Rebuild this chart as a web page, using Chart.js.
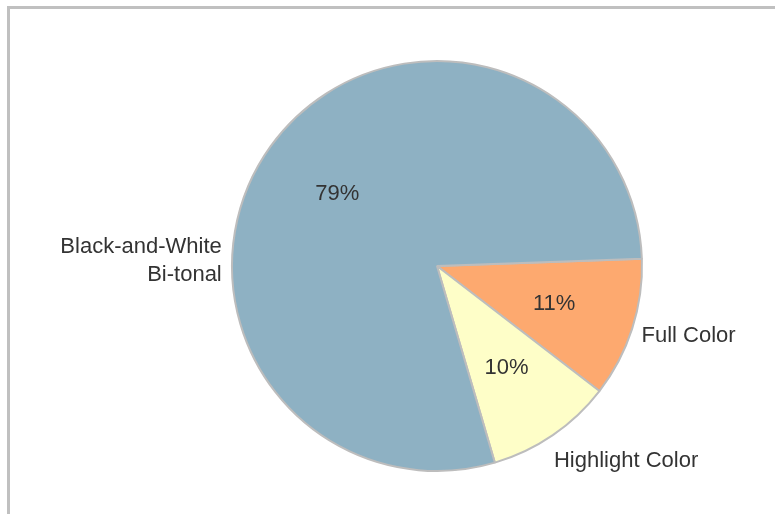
<!DOCTYPE html>
<html>
<head>
<meta charset="utf-8">
<script src="https://cdn.jsdelivr.net/npm/chart.js@4/dist/chart.umd.min.js"></script>
<style>
  html, body { margin: 0; padding: 0; background: #fff; }
  #wrap { position: relative; width: 775px; height: 514px; }
  #frame { position: absolute; left: 7px; top: 6px; right: 0; bottom: 0;
           border-top: 3px solid #c0c0c0; border-left: 3px solid #c0c0c0; }
  canvas { position: absolute; left: 0; top: 0; }
</style>
</head>
<body>
<div id="wrap">
  <div id="frame"></div>
  <canvas id="pie_chart" width="775" height="514"></canvas>
</div>
<script>
// slices, clockwise from just above 3 o'clock
var labels = ["Full Color", "Highlight Color", "Black-and-White\nBi-tonal"];
var shares = [11, 10, 79];
var colors = ["#fda96f", "#fefec8", "#8eb1c3"];

// outer label placement: angle override (deg, canvas) and alignment
var outerLabelOpts = [
  { angle: 19, dist: 1.055, align: "left" },
  { angle: 56, dist: 1.02, align: "left", dy: 22 },
  { angle: 180, dist: 1.05, align: "right", dy: -5 }
];

var sliceLabels = {
  id: "sliceLabels",
  afterDatasetsDraw: function(chart) {
    var ctx = chart.ctx;
    var meta = chart.getDatasetMeta(0);
    var total = shares.reduce(function(a, b) { return a + b; }, 0);
    ctx.save();
    ctx.fillStyle = "#333333";
    ctx.font = "22px 'Liberation Sans', Arial, sans-serif";
    ctx.textBaseline = "middle";
    meta.data.forEach(function(arc, i) {
      var p = arc.getProps(["x", "y", "startAngle", "endAngle", "outerRadius"], true);
      var mid = (p.startAngle + p.endAngle) / 2;
      var r = p.outerRadius * 0.6;
      ctx.textAlign = "center";
      ctx.fillText(Math.round(shares[i] / total * 100) + "%",
        p.x + Math.cos(mid) * r, p.y + Math.sin(mid) * r);

      var o = outerLabelOpts[i];
      var a = o.angle * Math.PI / 180;
      var lx = p.x + Math.cos(a) * p.outerRadius * o.dist;
      var ly = p.y + Math.sin(a) * p.outerRadius * o.dist + (o.dy || 0);
      var lines = labels[i].split("\n");
      ctx.textAlign = o.align;
      lines.forEach(function(t, k) {
        ctx.fillText(t, lx, ly + (k - (lines.length - 1) / 2) * 28);
      });
    });
    ctx.restore();
  }
};

new Chart(document.getElementById("pie_chart"), {
  type: "pie",
  data: {
    labels: labels,
    datasets: [{
      data: shares,
      backgroundColor: colors,
      borderColor: "#bdbdbd",
      borderWidth: 2
    }]
  },
  options: {
    responsive: false,
    animation: false,
    rotation: 88,
    layout: { padding: { left: 231, right: 132, top: 60, bottom: 42 } },
    plugins: {
      legend: { display: false },
      tooltip: { enabled: false }
    }
  },
  plugins: [sliceLabels]
});
</script>
</body>
</html>
